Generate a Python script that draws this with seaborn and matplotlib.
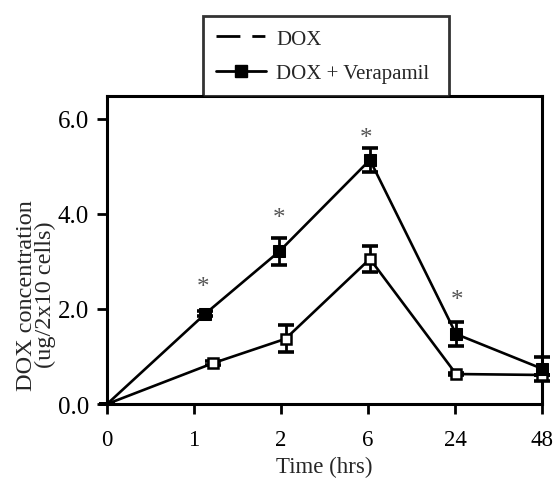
import matplotlib
matplotlib.use("Agg")
import matplotlib.pyplot as plt
import seaborn as sns
import pandas as pd
from matplotlib.lines import Line2D

# ---- data ----
time_labels = ["0", "1", "2", "6", "24", "48"]
time_idx = [0, 1, 2, 3, 4, 5]
dox_pos = [0.0, 1.22, 2.05, 3.02, 4.01, 5.0]
vera_pos = [0.0, 1.13, 1.98, 3.02, 4.01, 5.0]
dox_mean = [0.0, 0.86, 1.37, 3.05, 0.63, 0.61]
dox_err = [0.0, 0.04, 0.28, 0.28, 0.03, 0.0]
vera_mean = [0.0, 1.90, 3.21, 5.13, 1.47, 0.74]
vera_err = [0.0, 0.05, 0.28, 0.26, 0.25, 0.25]
star_x = [1.10, 1.97, 2.98, 4.02]
star_y = [2.46, 3.91, 5.59, 2.19]
yticks = [0.0, 2.0, 4.0, 6.0]

sns.set_theme(style="ticks")
plt.rcParams["font.family"] = ["Liberation Serif", "DejaVu Serif"]

df = pd.concat([
    pd.DataFrame({"pos": dox_pos, "conc": dox_mean, "group": "DOX"}),
    pd.DataFrame({"pos": vera_pos, "conc": vera_mean, "group": "DOX + Verapamil"}),
])

fig = plt.figure(figsize=(5.55, 4.81), dpi=100)
ax = fig.add_axes([0.193, 0.158, 0.784, 0.640])

lw = 1.9
ax.errorbar(dox_pos, dox_mean, yerr=dox_err, fmt="none", ecolor="black",
            elinewidth=2.0, capsize=6, capthick=2.6, zorder=2, clip_on=False)
ax.errorbar(vera_pos, vera_mean, yerr=vera_err, fmt="none", ecolor="black",
            elinewidth=2.0, capsize=6, capthick=2.6, zorder=2, clip_on=False)

sns.lineplot(data=df[df.group == "DOX"], x="pos", y="conc", ax=ax, color="black",
             lw=lw, marker="s", markersize=7.5, markerfacecolor="white",
             markeredgecolor="black", markeredgewidth=1.8, markevery=slice(1, None),
             legend=False, zorder=3, clip_on=False)
sns.lineplot(data=df[df.group == "DOX + Verapamil"], x="pos", y="conc", ax=ax,
             color="black", lw=lw, marker="s", markersize=8,
             markerfacecolor="black", markeredgecolor="black",
             markevery=slice(1, None), legend=False, zorder=4, clip_on=False)

for sx, sy in zip(star_x, star_y):
    ax.text(sx, sy, "*", ha="center", va="center", fontsize=18, color="#555555")

ax.set_xlim(0, 5)
ax.set_ylim(0, 6.47)
ax.set_xticks(time_idx)
ax.set_xticklabels(time_labels)
ax.set_yticks(yticks)
ax.set_yticklabels([f"{v:.1f}" for v in yticks])
ax.tick_params(axis="both", direction="out", length=7, width=2.0,
               colors="black")
ax.tick_params(axis="x", labelsize=16.5, pad=11)
ax.tick_params(axis="y", labelsize=18, pad=6)
for sp in ax.spines.values():
    sp.set_visible(True)
    sp.set_linewidth(2.2)
    sp.set_color("black")

ax.set_xlabel("Time (hrs)", fontsize=16.5, labelpad=4)
ax.set_ylabel("DOX concentration\n(ug/2x10 cells)", fontsize=17.5, linespacing=0.85)
ax.yaxis.set_label_coords(-0.118, 0.357)

handles = [
    Line2D([0], [0], color="black", lw=2.0, linestyle=(0, (8.6, 4.3, 4.7, 10))),
    Line2D([0], [0], color="black", lw=2.0, marker="s", markersize=8),
]
leg = ax.legend(handles, ["DOX", "DOX + Verapamil"], loc="lower left",
                bbox_to_anchor=(0.2207, 1.0, 0.5655, 0.2), mode="expand",
                frameon=True, fancybox=False,
                fontsize=15, handlelength=2.4, handletextpad=0.48,
                borderpad=0.62, labelspacing=0.72, edgecolor="black",
                borderaxespad=0)
leg.get_frame().set_linewidth(2.0)

fig.savefig("out.png", dpi=100)
